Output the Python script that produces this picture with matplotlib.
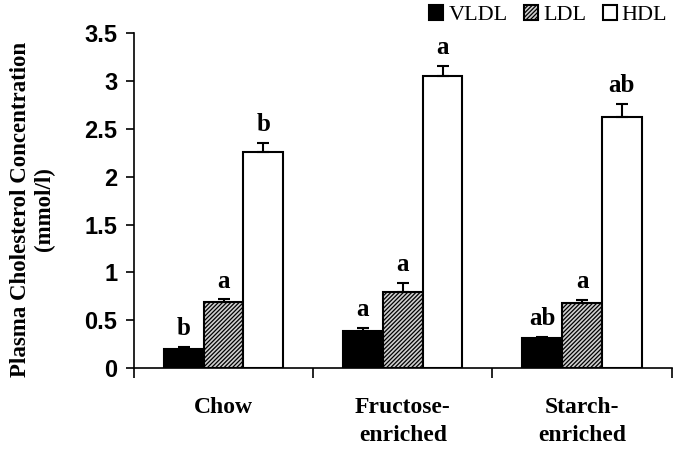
import matplotlib
matplotlib.use("Agg")
import matplotlib.pyplot as plt
import numpy as np

categories = ["Chow", "Fructose-\nenriched", "Starch-\nenriched"]
series = ["VLDL", "LDL", "HDL"]
vldl = [0.20, 0.39, 0.31]
ldl = [0.69, 0.80, 0.68]
hdl = [2.26, 3.05, 2.62]
vldl_err = [0.02, 0.03, 0.02]
ldl_err = [0.03, 0.09, 0.03]
hdl_err = [0.09, 0.11, 0.14]
vldl_lbl = ["b", "a", "ab"]
ldl_lbl = ["a", "a", "a"]
hdl_lbl = ["b", "a", "ab"]
yticks = [0, 0.5, 1, 1.5, 2, 2.5, 3, 3.5]
ytick_labels = ["0", "0.5", "1", "1.5", "2", "2.5", "3", "3.5"]

plt.rcParams['hatch.linewidth'] = 0.9
plt.rcParams['hatch.color'] = '#2a2a2a'

fig = plt.figure(figsize=(6.73, 4.49), dpi=100)
ax = fig.add_axes([0.199, 0.180, 0.799, 0.7465])

x = np.arange(len(categories))
w = 0.222
serif = "Liberation Serif"
sans = "Liberation Sans"

styles = [
    dict(facecolor="black", edgecolor="black", hatch=None),
    dict(facecolor="#cfcfcf", edgecolor="black", hatch="////////"),
    dict(facecolor="white", edgecolor="black", hatch=None),
]
data = [vldl, ldl, hdl]
errs = [vldl_err, ldl_err, hdl_err]
lbls = [vldl_lbl, ldl_lbl, hdl_lbl]
handles = []
for i in range(3):
    pos = x + (i - 1) * w
    e = np.array(errs[i])
    b = ax.bar(pos, data[i], w, yerr=[np.zeros_like(e), e], label=series[i],
               linewidth=1.5, error_kw=dict(ecolor="black", elinewidth=1.5,
                                            capsize=4.5, capthick=1.5),
               **styles[i])
    handles.append(b)
    for p, v, er, t in zip(pos, data[i], errs[i], lbls[i]):
        ax.text(p, v + er + 0.07, t, ha="center", va="bottom",
                fontsize=18, fontweight="bold", family=serif)

ax.set_xlim(-0.5, 2.5)
ax.set_ylim(0, 3.5)
ax.set_yticks(yticks)
ax.set_yticklabels(ytick_labels, fontsize=17, fontweight="bold", family=sans)
ax.set_xticks([-0.5, 0.5, 1.5, 2.5])
ax.set_xticklabels([])
ax.tick_params(axis="x", direction="out", length=7, width=1.2)
ax.tick_params(axis="y", direction="out", length=6, width=1.2, pad=6)
ax.spines["top"].set_visible(False)
ax.spines["right"].set_visible(False)
ax.spines["left"].set_linewidth(1.2)
ax.spines["bottom"].set_linewidth(1.2)

for xi, c in zip(x, categories):
    ax.text(xi, -0.30, c, ha="center", va="top", fontsize=17,
            fontweight="bold", family=serif, linespacing=1.45,
            transform=ax.transData)

ax.set_ylabel("Plasma Cholesterol Concentration\n(mmol/l)", fontsize=16.5,
              fontweight="bold", family=serif, linespacing=1.2)
ax.yaxis.set_label_coords(-0.146, 0.475)

fig.legend(handles=handles, labels=series, loc="center right",
           bbox_to_anchor=(667 / 673, 1 - 15 / 449), ncol=3, frameon=False,
           prop=dict(family=serif, size=16), handlelength=0.63,
           handleheight=0.63, handletextpad=0.22, columnspacing=0.75,
           borderpad=0, borderaxespad=0)

fig.savefig("out.png", dpi=100)
